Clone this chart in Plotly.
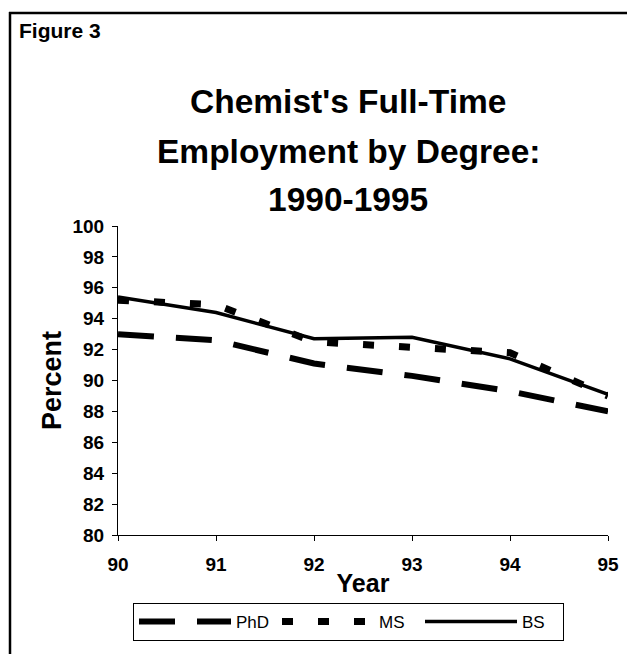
import plotly.graph_objects as go

years = [90, 91, 92, 93, 94, 95]
phd = [93.0, 92.6, 91.1, 90.3, 89.3, 88.0]
ms = [95.2, 94.9, 92.5, 92.1, 91.8, 89.0]
bs = [95.4, 94.4, 92.7, 92.8, 91.4, 89.1]
y_ticks = list(range(80, 101, 2))

# page body has an 8px margin; figure coordinates are page coordinates minus 8
OFF = 8
W, H = 627, 646
L, R, T, B = 110, 27, 218, 119
PW, PH = W - L - R, H - T - B


def px(x):
    return (x - OFF - L) / PW


def py(y):
    return (H - B - (y - OFF)) / PH


FONT = "Liberation Sans, Arial, sans-serif"

fig = go.Figure()
fig.add_trace(go.Scatter(x=years, y=phd, name="PhD", mode="lines",
                         line=dict(color="black", width=6, dash="36px,22px")))
fig.add_trace(go.Scatter(x=years, y=ms, name="MS", mode="lines",
                         line=dict(color="black", width=7, dash="11px,25px")))
fig.add_trace(go.Scatter(x=years, y=bs, name="BS", mode="lines",
                         line=dict(color="black", width=3.5)))

fig.update_layout(
    width=W, height=H,
    margin=dict(l=L, r=R, t=T, b=B, pad=0, autoexpand=False),
    paper_bgcolor="white", plot_bgcolor="white",
    font=dict(family=FONT, color="black"),
    showlegend=True,
    legend=dict(orientation="h", x=px(133), y=py(603), xanchor="left", yanchor="top",
                bordercolor="black", borderwidth=1, bgcolor="white",
                font=dict(size=17, family=FONT), itemwidth=92,
                entrywidth=36, entrywidthmode="pixels", tracegroupgap=0),
    xaxis=dict(range=[90, 95], tickvals=years, ticktext=[str(v) for v in years],
               showgrid=False, zeroline=False, showline=True, linecolor="black", linewidth=1,
               ticks="outside", ticklen=5, tickcolor="black",
               tickfont=dict(size=19, family=FONT, weight="bold"),
               ticklabelstandoff=7,
               title=dict(text="<b>Year</b>", font=dict(size=25, family=FONT), standoff=0)),
    yaxis=dict(range=[80, 100], tickvals=y_ticks,
               showgrid=False, zeroline=False, showline=True, linecolor="black", linewidth=1,
               ticks="outside", ticklen=5, tickcolor="black",
               tickfont=dict(size=19, family=FONT, weight="bold"),
               ticklabelstandoff=4,
               title=dict(text="<b>Percent</b>", font=dict(size=27, family=FONT), standoff=3)),
    xaxis2=dict(range=[90, 95], tickvals=years, overlaying="x", anchor="y",
                showgrid=False, zeroline=False, showline=False, showticklabels=False,
                ticks="inside", ticklen=5, tickcolor="black"),
    yaxis2=dict(range=[80, 100], tickvals=y_ticks, overlaying="y", anchor="x", side="left",
                showgrid=False, zeroline=False, showline=False, showticklabels=False,
                ticks="inside", ticklen=5, tickcolor="black"),
)

# page frame: only the top and left edges fall inside the picture
fig.add_shape(type="line", xref="paper", yref="paper",
              x0=px(9), x1=px(700), y0=py(13), y1=py(13),
              line=dict(color="black", width=2.5), layer="below")
fig.add_shape(type="line", xref="paper", yref="paper",
              x0=px(10), x1=px(10), y0=py(12), y1=py(700),
              line=dict(color="black", width=2.5), layer="below")

fig.add_annotation(text="<b>Figure 3</b>", xref="paper", yref="paper",
                   x=px(17), y=py(30), xanchor="left", yanchor="middle",
                   showarrow=False, font=dict(size=21, family=FONT))

title_lines = ["Chemist's Full-Time", "Employment by Degree:", "1990-1995"]
title_y = [101, 151, 200]
for txt, yy in zip(title_lines, title_y):
    fig.add_annotation(text="<b>" + txt + "</b>", xref="paper", yref="paper",
                       x=px(348), y=py(yy), xanchor="center", yanchor="middle",
                       showarrow=False, font=dict(size=33.5, family=FONT))

fig.write_html("out.html")
